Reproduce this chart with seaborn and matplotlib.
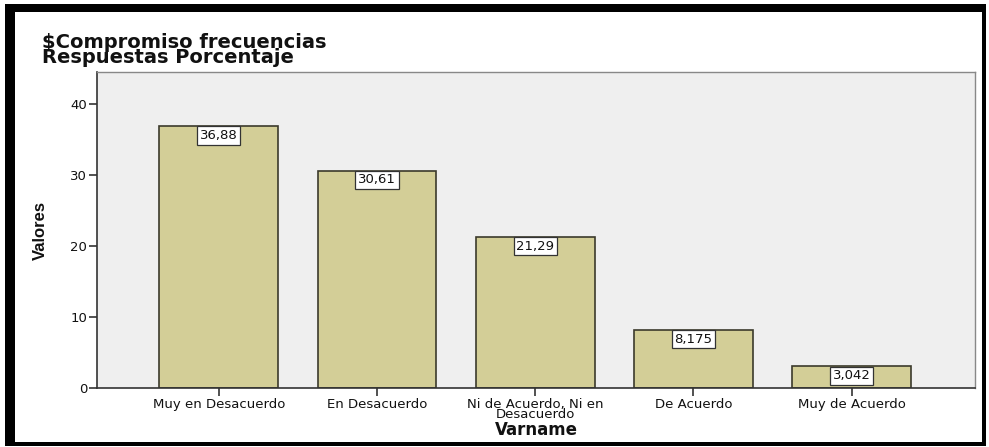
import numpy as np
import pandas as pd
import seaborn as sns
import matplotlib
matplotlib.use('Agg')
import matplotlib.pyplot as plt
from matplotlib.patches import Rectangle

categories = ['Muy en Desacuerdo', 'En Desacuerdo', 'Ni de Acuerdo, Ni en\nDesacuerdo',
              'De Acuerdo', 'Muy de Acuerdo']
values = [36.88, 30.61, 21.29, 8.175, 3.042]
value_labels = ['36,88', '30,61', '21,29', '8,175', '3,042']
yticks = [0, 10, 20, 30, 40]

df = pd.DataFrame({'Varname': categories, 'Valores': values})

sns.set_style('white')
plt.rcParams['font.family'] = ['DejaVu Sans']

fig = plt.figure(figsize=(9.89, 4.47), dpi=100)
ax = fig.add_axes([97/989, 1-388/447, (975-97)/989, (388-72)/447])
ax.set_facecolor('#efefef')

sns.barplot(data=df, x='Varname', y='Valores', ax=ax, color='#d3ce97',
            saturation=1, width=0.75, edgecolor='#3b3a2c', linewidth=1.2)

ax.set_xlim(-0.77, 4.78)
ax.set_ylim(0, 44.5)
ax.set_yticks(yticks)
ax.tick_params(axis='both', direction='out', length=6, width=1.2, color='#333333',
               labelsize=9.5, pad=1, left=True, bottom=True, labelcolor='#111111')
for lab in ax.get_xticklabels():
    lab.set_linespacing(0.72)

for s in ['left', 'bottom']:
    ax.spines[s].set_color('#333333')
    ax.spines[s].set_linewidth(1.2)
for s in ['top', 'right']:
    ax.spines[s].set_color('#888888')
    ax.spines[s].set_linewidth(1.0)

# value labels in white boxes
for i, (v, t) in enumerate(zip(values, value_labels)):
    ax.annotate(t, xy=(i, v), xytext=(0, -2), textcoords='offset points',
                ha='center', va='top', fontsize=9.5, color='#111111',
                bbox=dict(boxstyle='square,pad=0.2', fc='white', ec='#333333', lw=0.9))

ax.set_xlabel('Varname', fontsize=12, fontweight='bold', labelpad=0, color='#111111')
ax.set_ylabel('Valores', fontsize=12, fontweight='bold', labelpad=16, color='#111111',
              family=['Liberation Sans Narrow', 'Liberation Sans'])

fig.text(42/989, 1-50/447, '$Compromiso frecuencias\nRespuestas Porcentaje',
         fontsize=14, fontweight='bold', ha='left', va='center', linespacing=0.78,
         color='#111111')

# outer black frame
fig.patches.append(Rectangle((5/989, 4/447), 10/989, 439/447, transform=fig.transFigure,
                             fc='black', ec='none'))
fig.patches.append(Rectangle((5/989, 1-12/447), 981/989, 8/447, transform=fig.transFigure,
                             fc='black', ec='none'))
fig.patches.append(Rectangle((982/989, 4/447), 4/989, 439/447, transform=fig.transFigure,
                             fc='black', ec='none'))
fig.patches.append(Rectangle((5/989, 1/447), 981/989, 4/447, transform=fig.transFigure,
                             fc='black', ec='none'))

fig.savefig('out.png', dpi=100)
